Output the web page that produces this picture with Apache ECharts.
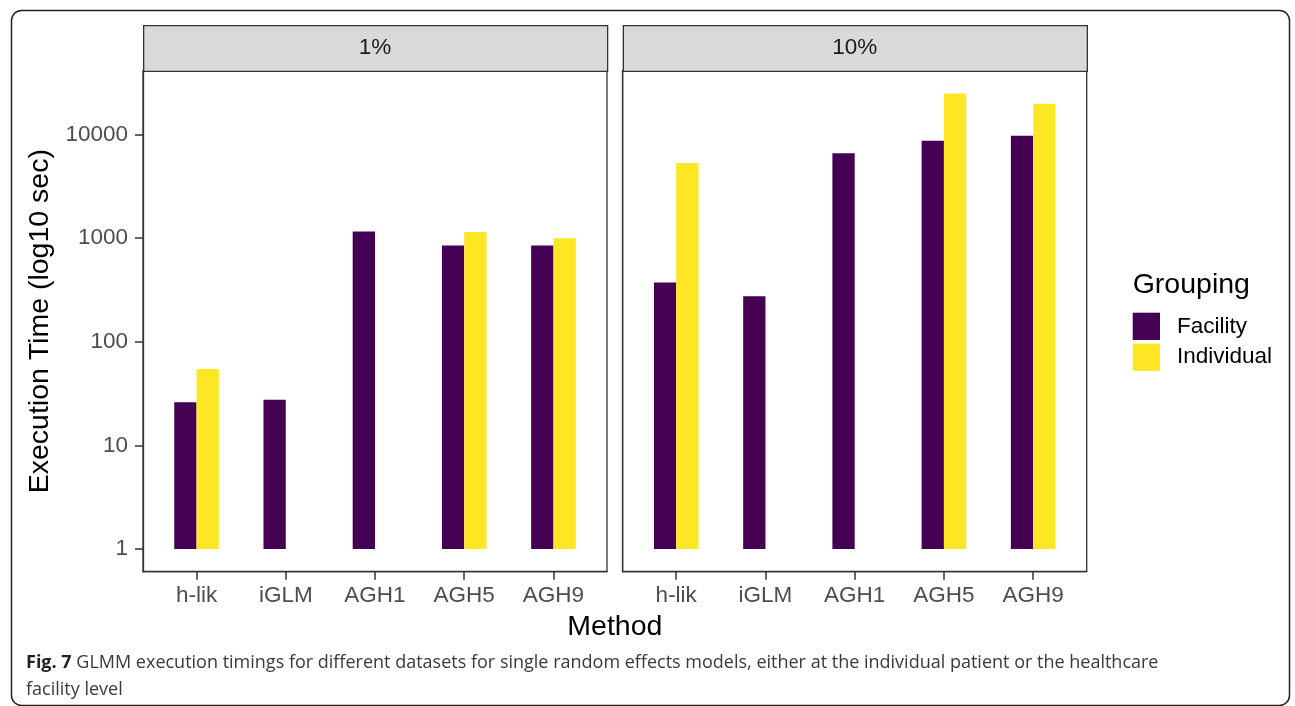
<!DOCTYPE html>
<html>
<head>
<meta charset="utf-8">
<script src="https://cdn.jsdelivr.net/npm/echarts@6/dist/echarts.min.js"></script>
<style>
  html, body { margin: 0; padding: 0; background: #ffffff; }
  #chart { width: 1295px; height: 706px; }
</style>
</head>
<body>
<div id="chart"></div>
<script>
// Methods on the x axis and the two dataset facets
const methods = ['h-lik', 'iGLM', 'AGH1', 'AGH5', 'AGH9'];
const panels = ['1%', '10%'];
const groups = ['Facility', 'Individual'];

// Execution time in seconds per method (null = not run)
const facility1    = [26, 27.6, 1158, 849, 849];
const individual1  = [54.6, null, null, 1148, 998];
const facility10   = [373, 274, 6580, 8710, 9730];
const individual10 = [5300, null, null, 24900, 19800];

// Tick labels of the log10 y axis
const yTicks = [1, 10, 100, 1000, 10000];

const panelData = [
  [facility1, individual1],
  [facility10, individual10]
];
const groupColors = ['#440154', '#FDE725'];

const FONT = 'Liberation Sans, Arial, sans-serif';
const CAPTION_FONT = '"Open Sans", sans-serif';
const TICK_COLOR = '#4D4D4D';
const LINE_COLOR = '#333333';

// y range: log10 of the data, padded 5% on both sides
const allValues = panelData.flat(2).filter(v => v != null);
const logMax = Math.log10(Math.max(...allValues));
const pad = 0.05 * logMax;
const yMin = 0 - pad;
const yMax = logMax + pad;

// panel geometry
const panelLeft = [143, 622.7];
const panelWidth = 464;
const panelTop = 70.7;
const panelHeight = 501;
const stripTop = 25;

const grids = panelLeft.map(l => ({
  left: l, top: panelTop, width: panelWidth, height: panelHeight,
  show: true, borderColor: LINE_COLOR, borderWidth: 1.3, backgroundColor: '#ffffff'
}));

const methodPositions = methods.map((m, i) => i + 1);

const xAxes = panels.map((p, k) => ({
  type: 'value', gridIndex: k, min: 0.4, max: methods.length + 0.6,
  axisLine: { show: true, onZero: false, lineStyle: { color: LINE_COLOR, width: 1.3 } },
  axisTick: { show: true, customValues: methodPositions, length: 8, lineStyle: { color: LINE_COLOR, width: 1.5 } },
  axisLabel: {
    customValues: methodPositions, margin: 13,
    color: TICK_COLOR, fontFamily: FONT, fontSize: 22.5,
    formatter: v => methods[Math.round(v) - 1]
  },
  splitLine: { show: false }
}));

const yAxes = panels.map((p, k) => ({
  type: 'value', gridIndex: k, min: yMin, max: yMax,
  axisLine: { show: true, lineStyle: { color: LINE_COLOR, width: 1.3 } },
  axisTick: { show: k === 0, customValues: yTicks.map(Math.log10), length: 8, lineStyle: { color: LINE_COLOR, width: 1.5 } },
  axisLabel: {
    show: k === 0, customValues: yTicks.map(Math.log10), margin: 15,
    color: TICK_COLOR, fontFamily: FONT, fontSize: 22.5,
    formatter: v => String(Math.round(Math.pow(10, v)))
  },
  splitLine: { show: false }
}));

const series = [];
panels.forEach((p, k) => {
  groups.forEach((g, j) => {
    const vals = panelData[k][j];
    const data = [];
    vals.forEach((v, i) => { if (v != null) data.push([i + 1, Math.log10(v)]); });
    series.push({
      type: 'bar', name: g, xAxisIndex: k, yAxisIndex: k,
      data: data, barWidth: 22.3, barGap: '0%',
      itemStyle: { color: groupColors[j] },
      emphasis: { disabled: true },
      animation: false
    });
  });
});

const graphics = [];
// facet strips
panels.forEach((p, k) => {
  graphics.push({
    type: 'rect', left: panelLeft[k], top: stripTop, z: 10,
    shape: { x: 0, y: 0, width: panelWidth, height: panelTop - stripTop },
    style: { fill: '#D9D9D9', stroke: LINE_COLOR, lineWidth: 1.3 }
  });
  graphics.push({
    type: 'text', x: panelLeft[k] + panelWidth / 2, y: (stripTop + panelTop) / 2, z: 11,
    style: { text: p, fill: '#1A1A1A', font: '22.5px ' + FONT, align: 'center', verticalAlign: 'middle' }
  });
});
// axis titles
graphics.push({
  type: 'text', x: 40, y: panelTop + panelHeight / 2, rotation: Math.PI / 2,
  style: { text: 'Execution Time (log10 sec)', fill: '#000000', font: '28.5px ' + FONT, align: 'center', verticalAlign: 'middle' }
});
graphics.push({
  type: 'text', x: (panelLeft[0] + panelLeft[1] + panelWidth) / 2, y: 627,
  style: { text: 'Method', fill: '#000000', font: '28.5px ' + FONT, align: 'center', verticalAlign: 'middle' }
});
// legend title
graphics.push({
  type: 'text', x: 1132.7, y: 285,
  style: { text: 'Grouping', fill: '#000000', font: '28.5px ' + FONT, align: 'left', verticalAlign: 'middle' }
});
// caption
graphics.push({
  type: 'text', x: 26, y: 663,
  style: {
    text: '{b|Fig. 7} GLMM execution timings for different datasets for single random effects models, either at the individual patient or the healthcare',
    fill: '#3A3A3A', font: '18px ' + CAPTION_FONT, verticalAlign: 'middle',
    rich: { b: { fontWeight: 'bold', fontFamily: CAPTION_FONT, fontSize: 18, fill: '#222222' } }
  }
});
graphics.push({
  type: 'text', x: 26, y: 690,
  style: { text: 'facility level', fill: '#3A3A3A', font: '18px ' + CAPTION_FONT, verticalAlign: 'middle' }
});
// outer frame
graphics.push({
  type: 'rect', left: 9, top: 8, silent: true,
  shape: { x: 0, y: 0, width: 1278, height: 695, r: 10 },
  style: { fill: 'none', stroke: '#222222', lineWidth: 1.5 }
});

const chart = echarts.init(document.getElementById('chart'), null, { renderer: 'canvas' });
chart.setOption({
  animation: false,
  backgroundColor: '#ffffff',
  grid: grids,
  xAxis: xAxes,
  yAxis: yAxes,
  legend: {
    data: groups, orient: 'vertical', left: 1132.7, top: 312.7, padding: 0,
    icon: 'rect', itemWidth: 27.3, itemHeight: 27.3, itemGap: 3.6,
    selectedMode: false,
    textStyle: { fontFamily: FONT, fontSize: 22.5, color: '#000000', padding: [0, 0, 0, 12] }
  },
  tooltip: { show: false },
  series: series,
  graphic: graphics
});
</script>
</body>
</html>
